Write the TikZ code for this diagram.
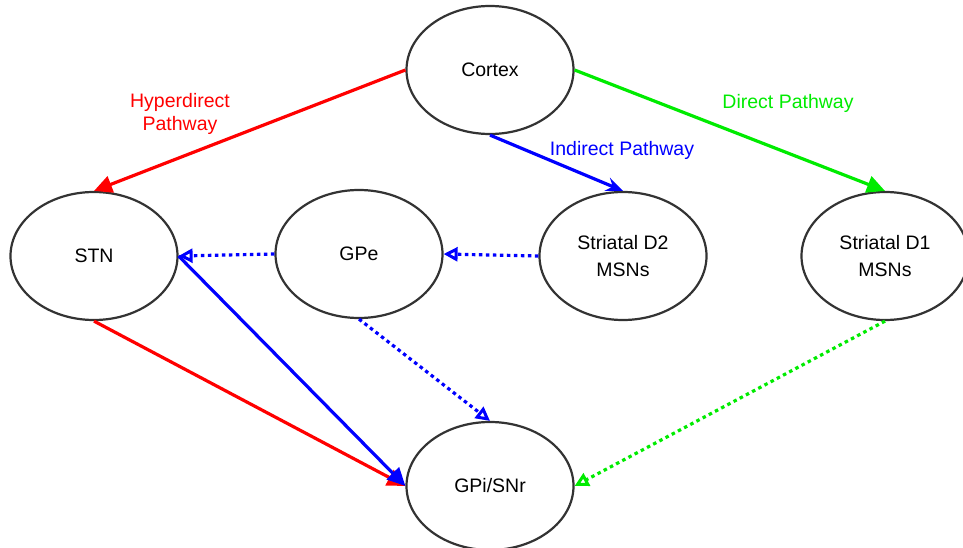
\documentclass[tikz,border=0pt]{standalone}
\usepackage{fontspec}
\setmainfont{Liberation Sans}
\usetikzlibrary{shapes.geometric,arrows.meta}
\definecolor{pred}{RGB}{255,0,0}
\definecolor{pgreen}{RGB}{0,235,0}
\definecolor{pblue}{RGB}{0,0,255}
\begin{document}
\begin{tikzpicture}[x=1pt,y=-1pt,
  region/.style={ellipse,draw=black!80,line width=2.2pt,minimum width=167pt,minimum height=128pt,inner sep=0pt,align=center,font=\fontsize{19.5}{27}\selectfont},
  lbl/.style={align=center,font=\fontsize{19.5}{23}\selectfont},
  solidarr/.style={line width=3.2pt,-{Triangle[length=18pt,width=17pt]}},
  dotarr/.style={line width=3.2pt,dash pattern=on 3.5pt off 3.5pt,-{Triangle[open,length=14pt,width=14pt,line width=3pt]}},
  thinarr/.style={line width=3.2pt,-{Stealth[length=17pt,width=14pt,inset=6pt]}}]
\useasboundingbox (0,0) rectangle (963,548);
\node[region] (cortex) at (490,70) {Cortex};
\node[region] (stn) at (94,256) {STN};
\node[region] (gpe) at (359,254) {GPe};
\node[region] (d2) at (623,256) {Striatal D2\\MSNs};
\node[region] (d1) at (885,256) {Striatal D1\\MSNs};
\node[region] (gpi) at (490,486) {GPi/SNr};
\draw[solidarr,pred] (cortex.west) -- (stn.north);
\draw[solidarr,pgreen] (cortex.east) -- (d1.north);
\draw[thinarr,pblue] (cortex.south) -- (d2.north);
\draw[dotarr,pblue] (gpe.west) -- (stn.east);
\draw[dotarr,pblue] (d2.west) -- (gpe.east);
\draw[dotarr,pblue] (gpe.south) -- (gpi.north);
\draw[dotarr,pgreen] (d1.south) -- (gpi.east);
\draw[solidarr,pred] (stn.south) -- (gpi.west);
\draw[solidarr,pblue] (stn.east) -- (gpi.west);
\node[lbl,text=pred] (lhyper) at (180,114) {Hyperdirect\\Pathway};
\node[lbl,text=pblue] (lind) at (622,150) {Indirect Pathway};
\node[lbl,text=pgreen] (ldir) at (788,103) {Direct Pathway};
\end{tikzpicture}
\end{document}
